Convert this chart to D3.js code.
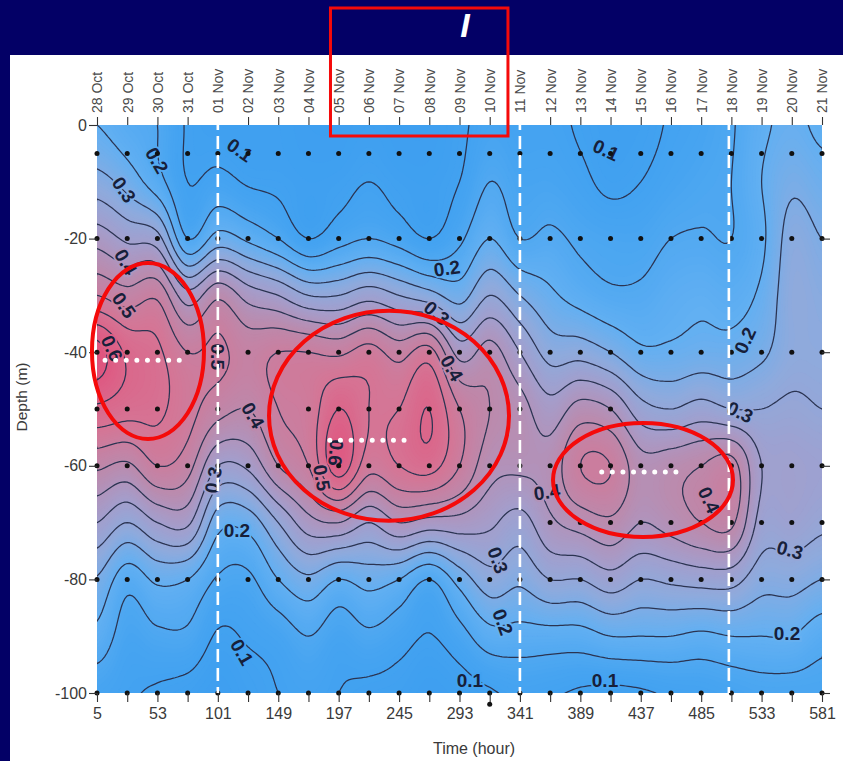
<!DOCTYPE html>
<html>
<head>
<meta charset="utf-8">
<script src="https://cdn.jsdelivr.net/npm/d3@7/dist/d3.min.js"></script>
<style>
  html, body { margin: 0; padding: 0; background: #030066; }
  svg { display: block; }
</style>
</head>
<body>
<svg id="chart" width="843" height="761"></svg>
<script>
// ---- sampling grid -------------------------------------------------------
const stationHours = [5, 29, 53, 77, 101, 125, 149, 173, 197, 221, 245, 269, 293,
                      317, 341, 365, 389, 413, 437, 461, 485, 509, 533, 557, 581];
const dateLabels = ["28 Oct", "29 Oct", "30 Oct", "31 Oct", "01 Nov", "02 Nov", "03 Nov",
                    "04 Nov", "05 Nov", "06 Nov", "07 Nov", "08 Nov", "09 Nov", "10 Nov",
                    "11 Nov", "12 Nov", "13 Nov", "14 Nov", "15 Nov", "16 Nov", "17 Nov",
                    "18 Nov", "19 Nov", "20 Nov", "21 Nov"];
const hourTickLabels = [5, 53, 101, 149, 197, 245, 293, 341, 389, 437, 485, 533, 581];
const depthTicks = [0, -20, -40, -60, -80, -100];
const gridDepths = [0, -10, -20, -30, -40, -50, -60, -70, -80, -90, -100];

// concentration at each station, one array per depth
const at0   = [0.20,0.17,0.15,0.095,0.08,0.08,0.08,0.07,0.07,0.08,0.07,0.07,0.09,0.12,0.11,0.11,0.095,0.08,0.085,0.105,0.12,0.145,0.19,0.21,0.19];
const at10  = [0.27,0.23,0.17,0.10,0.115,0.095,0.09,0.08,0.085,0.10,0.085,0.08,0.10,0.15,0.125,0.125,0.11,0.09,0.10,0.12,0.135,0.15,0.20,0.24,0.22];
const at20  = [0.38,0.34,0.32,0.15,0.22,0.19,0.15,0.10,0.13,0.15,0.13,0.10,0.14,0.20,0.15,0.16,0.14,0.13,0.13,0.15,0.155,0.15,0.19,0.27,0.25];
const at30  = [0.50,0.47,0.49,0.37,0.44,0.38,0.35,0.30,0.30,0.33,0.30,0.27,0.23,0.30,0.25,0.21,0.18,0.16,0.16,0.18,0.19,0.18,0.21,0.28,0.27];
const at40  = [0.67,0.59,0.56,0.50,0.51,0.48,0.50,0.50,0.49,0.52,0.48,0.52,0.38,0.42,0.35,0.28,0.28,0.25,0.21,0.21,0.22,0.22,0.24,0.28,0.28];
const at50  = [0.59,0.57,0.56,0.52,0.47,0.45,0.50,0.52,0.60,0.55,0.55,0.60,0.50,0.45,0.42,0.37,0.42,0.40,0.32,0.30,0.32,0.30,0.30,0.31,0.30];
const at60  = [0.46,0.44,0.50,0.47,0.35,0.36,0.45,0.50,0.63,0.52,0.55,0.57,0.50,0.42,0.41,0.42,0.50,0.50,0.42,0.43,0.45,0.47,0.35,0.34,0.33];
const at70  = [0.35,0.30,0.35,0.36,0.22,0.22,0.30,0.38,0.40,0.35,0.40,0.38,0.38,0.36,0.33,0.39,0.42,0.44,0.40,0.42,0.45,0.46,0.33,0.33,0.31];
const at80  = [0.245,0.17,0.21,0.20,0.145,0.14,0.20,0.24,0.20,0.22,0.20,0.15,0.22,0.28,0.26,0.30,0.30,0.33,0.30,0.31,0.32,0.32,0.27,0.27,0.25];
const at90  = [0.185,0.125,0.14,0.14,0.095,0.105,0.12,0.15,0.12,0.14,0.12,0.098,0.13,0.18,0.18,0.18,0.18,0.20,0.20,0.20,0.19,0.20,0.20,0.20,0.17];
const at100 = [0.12,0.105,0.095,0.085,0.07,0.085,0.10,0.11,0.10,0.09,0.085,0.07,0.08,0.095,0.11,0.105,0.095,0.09,0.095,0.105,0.11,0.12,0.13,0.13,0.13];
const fieldRows = [at0, at10, at20, at30, at40, at50, at60, at70, at80, at90, at100];

// bottle depths actually sampled
const dots5   = stationHours;
const dots20  = stationHours;
const dots40  = stationHours;
const dots50  = [5, 29, 53, 101, 173, 197, 221, 245, 269, 293, 317, 341, 413];
const dots60  = stationHours;
const dots70  = [365, 389, 413, 437, 461, 485, 509, 533, 557, 581];
const dots80  = stationHours;
const dots100 = stationHours;
const dotsExtraHour = [317];
const dotsExtraDepth = [-102];

// contour labels
const labelText  = ["0.2","0.3","0.4","0.5","0.6","0.1","0.5","0.2","0.3","0.4","0.6","0.5","0.4","0.3",
                    "0.2","0.1","0.4","0.3","0.2","0.1","0.1","0.1","0.2","0.3","0.4","0.3","0.2"];
const labelHour  = [52.7,26.5,28,26.5,16.9,118.6,101.1,283,275,287,194.9,183.8,129,97.2,
                    116.2,120.2,362.5,323.6,327.6,301.3,408.6,409.4,519.8,515.9,491.2,555.6,553.2];
const labelDepth = [-6.2,-11.4,-24.1,-31.7,-39.3,-4.4,-40.8,-25.2,-33.1,-42.8,-57.7,-62.1,-51.1,-62.5,
                    -71.3,-92.8,-64.6,-76.6,-87.5,-97.7,-97.7,-4.4,-37.9,-50.5,-66.0,-74.8,-89.4];
const labelAngle = [60,55,60,55,65,35,90,-8,40,60,95,80,60,-80,0,60,-8,70,70,0,0,25,-65,25,65,15,0];

// marked events
const markHours  = [101, 341, 507];
const ellipseHour = [45.5, 237, 438.8];
const ellipseDepth = [-39.8, -51.2, -62.5];
const dottedFrom = [11.4, 190, 406];
const dottedTo   = [74.1, 251.3, 466.4];
const dottedDepth = [-41.4, -55.5, -61.1];

// ---- layout ---------------------------------------------------------------
const W = 843, H = 761;
const plot = { left: 97, right: 822, top: 125, bottom: 693 };
const x = d3.scaleLinear().domain([5, 581]).range([plot.left, plot.right]);
const y = d3.scaleLinear().domain([0, -100]).range([plot.top, plot.bottom]);

const svg = d3.select("#chart");
svg.append("rect").attr("width", W).attr("height", H).attr("fill", "#030066");
svg.append("rect").attr("x", 10).attr("y", 55).attr("width", W - 10).attr("height", H - 55).attr("fill", "#ffffff");

// ---- smooth the station grid (Catmull-Rom in both directions) -------------
const fx = 12, fy = 10;
function cr(p0, p1, p2, p3, t) {
  return 0.5 * (2 * p1 + (-p0 + p2) * t + (2 * p0 - 5 * p1 + 4 * p2 - p3) * t * t +
                (-p0 + 3 * p1 - 3 * p2 + p3) * t * t * t);
}
function resample(arr, f) {
  const n = arr.length, out = [];
  for (let i = 0; i < n - 1; i++) {
    const p0 = arr[Math.max(0, i - 1)], p1 = arr[i], p2 = arr[i + 1], p3 = arr[Math.min(n - 1, i + 2)];
    for (let s = 0; s < f; s++) out.push(cr(p0, p1, p2, p3, s / f));
  }
  out.push(arr[n - 1]);
  return out;
}
const rowsFine = fieldRows.map(r => resample(r, fx));
const nx = rowsFine[0].length;
const colsFine = d3.range(nx).map(i => resample(rowsFine.map(r => r[i]), fy));
const ny = colsFine[0].length;
const values = new Float64Array(nx * ny);
for (let j = 0; j < ny; j++) for (let i = 0; i < nx; i++) values[j * nx + i] = colsFine[i][j];

const hourStep = 24 / fx, depthStep = 10 / fy;
function fieldAt(h, d) {
  const px = Math.max(0, Math.min(nx - 1.001, (h - 5) / hourStep));
  const py = Math.max(0, Math.min(ny - 1.001, -d / depthStep));
  const i = Math.floor(px), j = Math.floor(py), tx = px - i, ty = py - j;
  const v = (a, b) => values[b * nx + a];
  return (1 - ty) * ((1 - tx) * v(i, j) + tx * v(i + 1, j)) + ty * ((1 - tx) * v(i, j + 1) + tx * v(i + 1, j + 1));
}
const proj = d3.geoTransform({
  point(px, py) {
    const h = 5 + (px - 0.5) * hourStep;
    const d = -(py - 0.5) * depthStep;
    this.stream.point(x(h), y(d));
  }
});
const path = d3.geoPath(proj);

const colour = d3.scaleLinear()
  .domain([0.05, 0.12, 0.2, 0.28, 0.36, 0.45, 0.55, 0.68])
  .range(["#3b9def", "#46a4f1", "#63b0f2", "#8eaadd", "#a59dca", "#bd89ab", "#d67494", "#e1517c"])
  .interpolate(d3.interpolateRgb)
  .clamp(true);

svg.append("clipPath").attr("id", "plotClip")
  .append("rect").attr("x", plot.left).attr("y", plot.top)
  .attr("width", plot.right - plot.left).attr("height", plot.bottom - plot.top);

const gPlot = svg.append("g").attr("clip-path", "url(#plotClip)");
gPlot.append("rect").attr("x", plot.left).attr("y", plot.top)
  .attr("width", plot.right - plot.left).attr("height", plot.bottom - plot.top)
  .attr("fill", colour(0.05));

const fillSteps = d3.range(0.055, 0.72, 0.005);
const bands = d3.contours().size([nx, ny]).thresholds(fillSteps)(values);
gPlot.append("g").selectAll("path").data(bands).join("path")
  .attr("d", path)
  .attr("fill", d => colour(d.value + 0.0025))
  .attr("stroke", d => colour(d.value + 0.0025))
  .attr("stroke-width", 0.3);

const lineLevels = [0.1, 0.15, 0.2, 0.25, 0.3, 0.35, 0.4, 0.45, 0.5, 0.55, 0.6, 0.65];
const isolines = d3.contours().size([nx, ny]).thresholds(lineLevels)(values);
gPlot.append("g").selectAll("path").data(isolines).join("path")
  .attr("d", path)
  .attr("fill", "none")
  .attr("stroke", "#2b3452")
  .attr("stroke-width", 1.25)
  .attr("stroke-linejoin", "round");

// ---- contour labels (haloed with the local fill so the line breaks) -------
gPlot.append("g").selectAll("text").data(labelText).join("text")
  .attr("transform", (t, i) => `translate(${x(labelHour[i])},${y(labelDepth[i])}) rotate(${labelAngle[i]})`)
  .attr("text-anchor", "middle")
  .attr("dy", "0.36em")
  .attr("font-family", "Liberation Sans, Arial, sans-serif")
  .attr("font-size", 19)
  .attr("font-weight", 600)
  .attr("fill", "#17203a")
  .attr("stroke", (t, i) => colour(fieldAt(labelHour[i], labelDepth[i])))
  .attr("stroke-width", 4)
  .attr("paint-order", "stroke")
  .text(t => t);

// ---- sample dots ----------------------------------------------------------
const dotRows = [[-5, dots5], [-20, dots20], [-40, dots40], [-50, dots50], [-60, dots60],
                 [-70, dots70], [-80, dots80], [-100, dots100]];
const dotData = [];
dotRows.forEach(([d, hs]) => hs.forEach(h => dotData.push([h, d])));
dotsExtraHour.forEach((h, i) => dotData.push([h, dotsExtraDepth[i]]));
svg.append("g").selectAll("circle").data(dotData).join("circle")
  .attr("cx", d => x(d[0])).attr("cy", d => y(d[1])).attr("r", 2.5).attr("fill", "#111");

// ---- axes -----------------------------------------------------------------
const axisFont = "Liberation Sans, Arial, sans-serif";
function styleAxis(g) {
  g.select(".domain").remove();
  g.selectAll(".tick line").attr("stroke", "#333").attr("stroke-width", 1.1);
  g.selectAll("text").attr("fill", "#3a3a3a").attr("font-family", axisFont);
}

svg.append("g").attr("transform", `translate(${plot.left},0)`)
  .call(d3.axisLeft(y).tickValues(depthTicks).tickSize(8).tickPadding(2).tickFormat(d => String(d)))
  .call(styleAxis)
  .selectAll("text").attr("font-size", 16);

svg.append("g").attr("transform", `translate(${plot.right},0)`)
  .call(d3.axisRight(y).tickValues(depthTicks.slice(1)).tickSize(8).tickFormat(""))
  .call(styleAxis);

svg.append("g").attr("transform", `translate(0,${plot.bottom})`)
  .call(d3.axisBottom(x).tickValues(stationHours).tickSize(9).tickPadding(6)
    .tickFormat(h => hourTickLabels.includes(h) ? String(h) : ""))
  .call(styleAxis)
  .selectAll("text").attr("font-size", 16);

const topAxis = svg.append("g").attr("transform", `translate(0,${plot.top})`)
  .call(d3.axisTop(x).tickValues(stationHours).tickSize(8)
    .tickFormat(h => dateLabels[stationHours.indexOf(h)]))
  .call(styleAxis);
topAxis.selectAll("text")
  .attr("font-size", 14)
  .attr("fill", "#4a4a4a")
  .attr("text-anchor", "start")
  .attr("transform", "translate(0,-12) rotate(-90)")
  .attr("x", 0).attr("y", 0).attr("dy", "0.35em");

svg.append("text")
  .attr("transform", `translate(27,397) rotate(-90)`)
  .attr("text-anchor", "middle")
  .attr("font-family", axisFont).attr("font-size", 15.5).attr("fill", "#3a3a3a")
  .text("Depth (m)");
svg.append("text")
  .attr("x", 474).attr("y", 754)
  .attr("text-anchor", "middle")
  .attr("font-family", axisFont).attr("font-size", 16).attr("fill", "#3a3a3a")
  .text("Time (hour)");

// ---- event markers --------------------------------------------------------
svg.append("g").selectAll("line").data(markHours).join("line")
  .attr("x1", h => x(h)).attr("x2", h => x(h))
  .attr("y1", plot.top - 8).attr("y2", plot.bottom)
  .attr("stroke", "#fff").attr("stroke-width", 2.6).attr("stroke-dasharray", "13,6");

const ellipseRx = [56, 120, 90], ellipseRy = [88, 105, 57];
svg.append("g").selectAll("ellipse").data(ellipseHour).join("ellipse")
  .attr("cx", (h) => x(h)).attr("cy", (h, i) => y(ellipseDepth[i]))
  .attr("rx", (h, i) => ellipseRx[i]).attr("ry", (h, i) => ellipseRy[i])
  .attr("fill", "none").attr("stroke", "#f50a0a").attr("stroke-width", 4);

svg.append("g").selectAll("line").data(dottedFrom).join("line")
  .attr("x1", h => x(h)).attr("x2", (h, i) => x(dottedTo[i]))
  .attr("y1", (h, i) => y(dottedDepth[i])).attr("y2", (h, i) => y(dottedDepth[i]))
  .attr("stroke", "#fff").attr("stroke-width", 5).attr("stroke-linecap", "round")
  .attr("stroke-dasharray", "0,10.6");

// highlighted date window and panel letter
svg.append("rect")
  .attr("x", x(190.5)).attr("y", 8).attr("width", x(331.5) - x(190.5)).attr("height", 128)
  .attr("fill", "none").attr("stroke", "#f50a0a").attr("stroke-width", 3);
svg.append("text")
  .attr("x", 465).attr("y", 37).attr("text-anchor", "middle")
  .attr("font-family", "Liberation Sans, Arial, sans-serif").attr("font-size", 34)
  .attr("font-style", "italic").attr("font-weight", 700).attr("fill", "#fff")
  .text("I");
</script>
</body>
</html>
